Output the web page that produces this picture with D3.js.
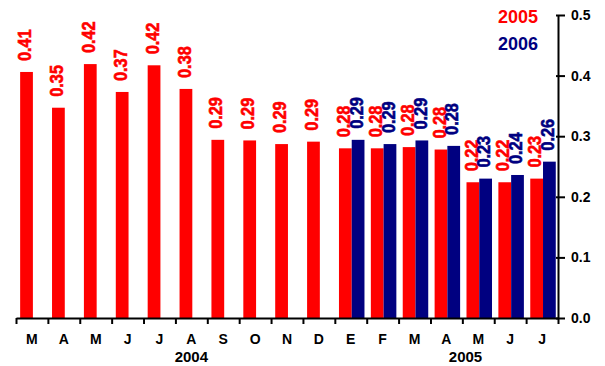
<!DOCTYPE html>
<html>
<head>
<meta charset="utf-8">
<script src="https://cdn.jsdelivr.net/npm/d3@7"></script>
<style>
  body { margin: 0; background: #fff; }
  svg { display: block; font-family: "Liberation Sans", Arial, sans-serif; font-weight: bold; }
</style>
</head>
<body>
<svg></svg>
<script>
const red = "#ff0000"
const navy = "#000080"

// data
const months = ["M", "A", "M", "J", "J", "A", "S", "O", "N", "D", "E", "F", "M", "A", "M", "J", "J"]
const series2005 = [0.406, 0.347, 0.419, 0.373, 0.417, 0.378, 0.294, 0.293, 0.287, 0.291,
                    0.280, 0.280, 0.282, 0.278, 0.224, 0.224, 0.230]
const series2006 = [null, null, null, null, null, null, null, null, null, null,
                    0.294, 0.287, 0.293, 0.284, 0.230, 0.236, 0.258]
const seriesNames = ["2005", "2006"]
const yearLabels = ["2004", "2005"]
const yearPos = [5.5, 14.1]   // position in category units
const yTicks = [0, 0.1, 0.2, 0.3, 0.4, 0.5]

const width = 605, height = 366
const plot = { left: 16, right: 558, top: 15, bottom: 318 }

const svg = d3.select("svg").attr("width", width).attr("height", height)

const idx = d3.range(months.length)

// scales
const xCat = d3.scaleBand().domain(idx).range([plot.left, plot.right])
const xLin = d3.scaleLinear().domain([0, months.length]).range([plot.left, plot.right])
const x0 = d3.scaleBand().domain(idx).range([plot.left, plot.right])
  .paddingInner(0.2).paddingOuter(0.1).align(0.65)
const x1 = d3.scaleBand().domain(seriesNames).range([0, x0.bandwidth()])
const y = d3.scaleLinear().domain([0, 0.5]).range([plot.bottom, plot.top])

const rows = idx.map(i => ({ i, values: [
  { key: "2005", v: series2005[i], color: red },
  { key: "2006", v: series2006[i], color: navy }
].filter(d => d.v != null) }))

// bars
const groups = svg.append("g").selectAll("g")
  .data(rows)
  .join("g")
  .attr("transform", d => `translate(${x0(d.i)},0)`)

groups.selectAll("rect")
  .data(d => d.values)
  .join("rect")
  .attr("x", d => x1(d.key))
  .attr("y", d => y(d.v))
  .attr("width", x1.bandwidth())
  .attr("height", d => y(0) - y(d.v))
  .attr("fill", d => d.color)

// value labels (tall, slightly condensed like the original)
const fmt = d3.format(".2f")
groups.selectAll("text")
  .data(d => d.values)
  .join("text")
  .attr("transform", d => `translate(${x1(d.key) + x1.bandwidth() / 2 - 2},${y(d.v) - 11}) rotate(-90) scale(0.88,1)`)
  .attr("dy", "0.36em")
  .attr("font-size", 18.5)
  .attr("fill", d => d.color)
  .attr("stroke", d => d.color)
  .attr("stroke-width", 0.6)
  .text(d => fmt(d.v))

// x axis: boundary ticks
const xAxis = svg.append("g")
  .attr("transform", `translate(0,${plot.bottom})`)
  .call(d3.axisBottom(xLin).tickValues(d3.range(months.length + 1)).tickFormat("").tickSizeInner(6).tickSizeOuter(0))
xAxis.select(".domain").attr("stroke-width", 2)
xAxis.selectAll(".tick line").attr("stroke-width", 2)

// month labels
svg.append("g")
  .attr("transform", `translate(0,${plot.bottom})`)
  .call(d3.axisBottom(xCat).tickSize(0).tickPadding(16).tickFormat(i => months[i]))
  .call(g => g.select(".domain").remove())
  .selectAll("text")
  .attr("font-size", 14)
  .attr("font-family", null)
  .attr("fill", "#000")

// year labels
svg.append("g").selectAll("text")
  .data(yearLabels)
  .join("text")
  .attr("x", (d, i) => xLin(yearPos[i]))
  .attr("y", 362)
  .attr("text-anchor", "middle")
  .attr("font-size", 15)
  .text(d => d)

// y axis on the right
const yAxis = svg.append("g")
  .attr("transform", `translate(${plot.right},0)`)
  .call(d3.axisRight(y).tickValues(yTicks).tickFormat(d3.format(".1f")).tickSizeInner(7).tickSizeOuter(0).tickPadding(6))
yAxis.select(".domain").attr("stroke-width", 2)
yAxis.selectAll(".tick line").attr("stroke-width", 2).attr("x1", -2)
yAxis.selectAll("text").attr("font-size", 14).attr("font-family", null).attr("fill", "#000")

// legend
svg.append("g").selectAll("text")
  .data(seriesNames)
  .join("text")
  .attr("x", 538)
  .attr("y", (d, i) => 23 + i * 27)
  .attr("text-anchor", "end")
  .attr("font-size", 18)
  .attr("fill", (d, i) => i === 0 ? red : navy)
  .text(d => d)
</script>
</body>
</html>
